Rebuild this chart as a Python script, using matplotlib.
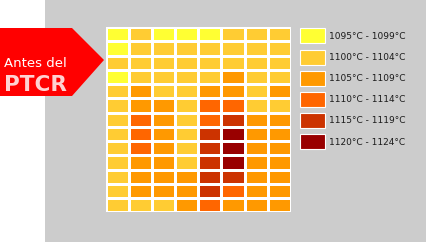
import numpy as np
import matplotlib
matplotlib.use('Agg')
import matplotlib.pyplot as plt
from matplotlib.colors import ListedColormap, BoundaryNorm
from matplotlib.patches import Rectangle, Polygon

# temperature classes (legend)
labels = ['1095°C - 1099°C', '1100°C - 1104°C', '1105°C - 1109°C',
          '1110°C - 1114°C', '1115°C - 1119°C', '1120°C - 1124°C']
colors = ['#FFFF33', '#FFCC33', '#FF9900', '#FF6600', '#CC3300', '#990000']

# class index of each cell, top row first (13 rows x 8 cols)
grid = np.array([
    [0, 1, 0, 0, 0, 1, 1, 1],
    [0, 1, 1, 1, 1, 1, 1, 1],
    [1, 1, 1, 1, 1, 1, 1, 1],
    [0, 1, 1, 1, 1, 2, 1, 1],
    [1, 2, 1, 1, 2, 2, 1, 2],
    [1, 2, 2, 1, 3, 3, 1, 1],
    [1, 3, 2, 1, 3, 4, 2, 2],
    [1, 3, 2, 1, 4, 5, 2, 2],
    [1, 3, 2, 1, 4, 5, 2, 2],
    [1, 2, 2, 1, 4, 5, 2, 2],
    [1, 2, 2, 2, 4, 4, 2, 2],
    [1, 2, 2, 2, 4, 3, 2, 2],
    [1, 1, 1, 2, 3, 2, 2, 2],
])

W, H = 426, 243
fig = plt.figure(figsize=(W / 100, H / 100), dpi=100)

# background layer in pixel coordinates
bg = fig.add_axes([0, 0, 1, 1])
bg.set_xlim(0, W)
bg.set_ylim(H, 0)
bg.axis('off')
bg.add_patch(Rectangle((45, 0), W - 45, 242, facecolor='#CCCCCC', edgecolor='none'))

# red arrow label
bg.add_patch(Polygon([(0, 28), (72, 28), (104, 60), (72, 96), (0, 96)],
                     closed=True, facecolor='#FF0000', edgecolor='none', zorder=3))
bg.text(4, 67, 'Antes del', color='white', fontsize=9.5, ha='left', va='baseline', zorder=4)
bg.text(3.5, 91, 'PTCR', color='#FFD2D2', fontsize=15.5, fontweight='bold',
        ha='left', va='baseline', zorder=4)

# legend
for i, (lab, c) in enumerate(zip(labels, colors)):
    y0 = 28.3 + 21.2 * i
    bg.add_patch(Rectangle((300, y0), 25, 15, facecolor=c, edgecolor='white', linewidth=0.8))
    bg.text(329, y0 + 7.8, lab, fontsize=6.5, color='#1a1a1a', ha='left', va='center')

# heat grid
gx0, gx1, gy0, gy1 = 105.5, 291, 27, 212.3
ax = fig.add_axes([gx0 / W, 1 - gy1 / H, (gx1 - gx0) / W, (gy1 - gy0) / H])
cmap = ListedColormap(colors)
norm = BoundaryNorm(np.arange(-0.5, len(colors) + 0.5), cmap.N)
ax.pcolormesh(grid, cmap=cmap, norm=norm, edgecolors='white', linewidth=0.8)
ax.set_xlim(0, grid.shape[1])
ax.set_ylim(grid.shape[0], 0)
ax.axis('off')

fig.savefig('out.png', dpi=100)
